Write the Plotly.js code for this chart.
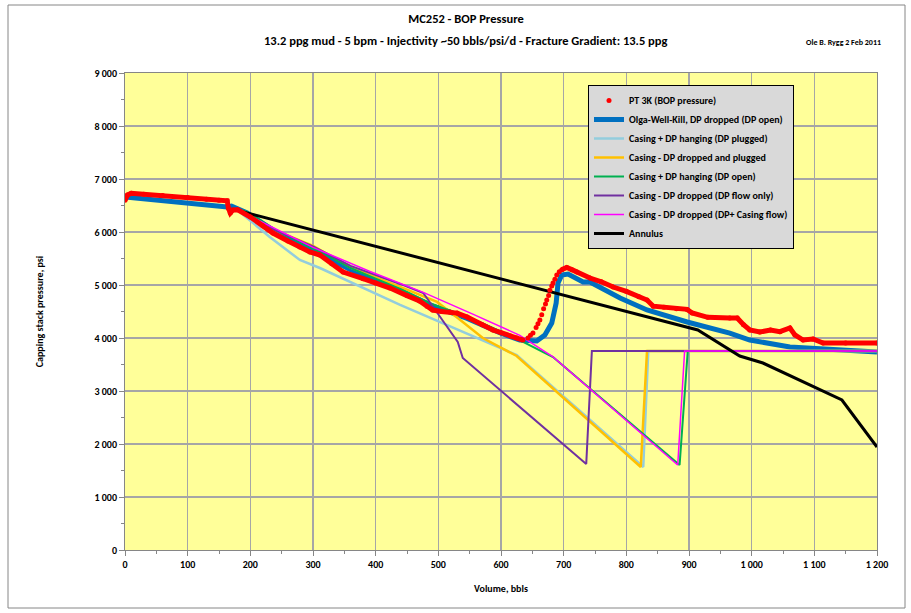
<!DOCTYPE html>
<html><head><meta charset="utf-8">
<script src="https://cdn.plot.ly/plotly-3.0.1.min.js"></script>
<style>html,body{margin:0;padding:0;background:#fff;}#chart{width:911px;height:613px;}</style>
</head><body><div id="chart"></div>
<script>
// PT 3K (BOP pressure) measured
const ptVol = [0,4,10,30,60,100,130,150,163,165,168,172,180,200,220,236,260,279,295,311,330,348,380,400,423,450,470,482,491,505,519,530,546,570,587,600,615,625,635,643,647,651,656,659,662,665,668,671,673,676,678,681,683,686,689,693,697,705,713,721,742,760,779,800,820,833,843,860,880,897,905,930,965,977,987,997,1013,1030,1045,1061,1069,1082,1098,1114,1150,1200];
const ptPsi = [6600,6700,6730,6710,6690,6650,6620,6600,6590,6450,6360,6415,6420,6283,6120,5981,5830,5717,5623,5566,5400,5245,5120,5040,4943,4800,4700,4600,4528,4500,4491,4470,4396,4250,4151,4100,4040,4000,3962,4000,4050,4094,4200,4270,4340,4440,4550,4640,4717,4800,4900,4980,5038,5110,5189,5250,5290,5330,5290,5245,5132,5060,4962,4880,4780,4717,4600,4580,4550,4540,4472,4390,4377,4377,4250,4151,4113,4150,4120,4189,4057,3962,3981,3906,3906,3906];
// Olga-Well-Kill, DP dropped (DP open)
const olgaVol = [0,163,170,195,240,280,320,360,400,440,490,546,600,630,657,670,681,688,691,697,707,731,742,790,833,897,965,997,1061,1130,1200];
const olgaPsi = [6660,6470,6490,6358,6010,5770,5550,5290,5090,4890,4610,4370,4090,3962,3943,4057,4283,4660,5038,5189,5208,5057,5057,4755,4528,4302,4094,3962,3830,3774,3736];
// Casing + DP hanging (DP plugged)
const lbVol = [179,231,279,311,439,571,625,827,835,1200];
const lbPsi = [6420,5906,5472,5321,4623,3962,3679,1566,3755,3755];
// Casing - DP dropped and plugged
const orVol = [179,240,300,360,440,475,498,531,571,625,823,833,1200];
const orPsi = [6420,6030,5740,5330,4960,4790,4680,4377,4000,3660,1566,3755,3755];
// Casing + DP hanging (DP open)
const grVol = [179,195,240,280,320,360,400,440,490,546,600,625,683,885,898,1200];
const grPsi = [6440,6380,6040,5800,5580,5320,5120,4920,4640,4400,4120,3990,3640,1604,3755,3755];
// Casing - DP dropped (DP flow only)
const puVol = [179,240,300,360,439,476,503,531,539,736,745,1200];
const puPsi = [6420,6030,5730,5360,5020,4849,4396,3925,3623,1623,3755,3755];
// Casing - DP dropped (DP+ Casing flow)
const mgVol = [179,240,300,390,476,555,630,683,882,893,1200];
const mgPsi = [6420,6060,5710,5260,4860,4450,4050,3642,1604,3755,3755];
// Annulus
const anVol = [175,838,914,981,1018,1144,1200];
const anPsi = [6420,4396,4151,3660,3528,2830,1943];

const xTicks = [0,100,200,300,400,500,600,700,800,900,1000,1100,1200];
const yTicks = [0,1000,2000,3000,4000,5000,6000,7000,8000,9000];

const FONT = "Carlito, 'Liberation Sans Narrow', 'Liberation Sans', Arial, sans-serif";

// the dense parts of the measured record are drawn joined; the sparse rise is dots only
const ptLinePsi = ptPsi.map((v, i) => (ptVol[i] > 640 && ptVol[i] < 697) ? null : v);
const ptLineVol = ptVol.map((v, i) => (ptVol[i] > 640 && ptVol[i] < 697) ? null : v);

function ln(name, x, y, color, width, rank) {
  return {type:'scatter', mode:'lines', name:name, x:x, y:y, legendgroup:name, legendrank:rank,
    line:{color:color, width:width}, hoverinfo:'skip'};
}
const traces = [
  ln('Olga-Well-Kill, DP dropped (DP open)', olgaVol, olgaPsi, '#0070C0', 5, 2),
  ln('Casing + DP hanging (DP plugged)', lbVol, lbPsi, '#93CDDD', 2.5, 3),
  ln('Casing - DP dropped and plugged', orVol, orPsi, '#FFC000', 2.5, 4),
  ln('Casing + DP hanging (DP open)', grVol, grPsi, '#00B050', 2, 5),
  ln('Casing - DP dropped (DP flow only)', puVol, puPsi, '#7030A0', 2, 6),
  ln('Casing - DP dropped (DP+ Casing flow)', mgVol, mgPsi, '#FF00FF', 1.5, 7),
  ln('Annulus', anVol, anPsi, '#000000', 3, 8),
  {type:'scatter', mode:'lines', x:ptLineVol, y:ptLinePsi, name:'PT 3K (BOP pressure)', legendgroup:'pt', showlegend:false,
    connectgaps:false, line:{color:'#FF0000', width:5}, hoverinfo:'skip'},
  {type:'scatter', mode:'markers', x:ptVol, y:ptPsi, name:'PT 3K (BOP pressure)', legendgroup:'pt', legendrank:1,
    marker:{color:'#FF0000', size:5}, hoverinfo:'skip'}
];

const axisCommon = {
  showgrid:true, gridcolor:'#A6A6A6', gridwidth:1.5,
  showline:true, linecolor:'#868686', linewidth:1, mirror:true,
  ticks:'outside', ticklen:5, tickcolor:'#868686', tickwidth:1,
  zeroline:false, separatethousands:true,
  tickfont:{family:FONT, size:10, color:'#000', weight:'bold'}
};

const layout = {
  width:911, height:613,
  paper_bgcolor:'#FFFFFF', plot_bgcolor:'#FFFF99',
  separators:'. ',
  margin:{l:125, r:34, t:73, b:63},
  font:{family:FONT, color:'#000'},
  showlegend:true,
  title:{text:'MC252 - BOP Pressure', font:{family:FONT, size:12.5, weight:'bold', color:'#000'},
    x:466/911, xref:'container', xanchor:'center', y:1-19/613, yref:'container', yanchor:'middle'},
  xaxis: Object.assign({}, axisCommon, {
    range:[0,1200], tickvals:xTicks,
    minor:{dtick:50, ticks:'outside', ticklen:3, tickcolor:'#868686', showgrid:false},
    title:{text:'Volume, bbls', font:{family:FONT, size:10, weight:'bold'}, standoff:14}
  }),
  yaxis: Object.assign({}, axisCommon, {
    range:[0,9000], tickvals:yTicks,
    minor:{dtick:500, ticks:'outside', ticklen:3, tickcolor:'#868686', showgrid:false},
    title:{text:'Capping stack pressure, psi', font:{family:FONT, size:10, weight:'bold'}, standoff:48}
  }),
  legend:{
    x:(588-125)/752, y:(550-85)/477, xanchor:'left', yanchor:'top',
    bgcolor:'#D9D9D9', bordercolor:'#000000', borderwidth:1,
    font:{family:FONT, size:10, weight:'bold', color:'#000'},
    traceorder:'grouped', tracegroupgap:0, itemwidth:30
  },
  annotations:[
    {text:'13.2 ppg mud - 5 bpm - Injectivity ~50 bbls/psi/d - Fracture Gradient: 13.5 ppg',
     xref:'paper', yref:'paper', x:(466-125)/752, y:(550-40)/477, xanchor:'center', yanchor:'middle',
     showarrow:false, font:{family:FONT, size:12.5, weight:'bold', color:'#000'}},
    {text:'Ole B. Rygg 2 Feb 2011', xref:'paper', yref:'paper', x:(843-125)/752, y:(550-42)/477,
     xanchor:'center', yanchor:'middle', showarrow:false, font:{family:FONT, size:8, weight:'bold', color:'#000'}}
  ],
  shapes:[
    {type:'rect', xref:'paper', yref:'paper', x0:(8-125)/752, x1:(905-125)/752, y0:(550-608)/477, y1:(550-5)/477,
     line:{color:'#868686', width:1}, fillcolor:'rgba(0,0,0,0)', layer:'below'}
  ]
};

Plotly.newPlot('chart', traces, layout, {staticPlot:true, displayModeBar:false});
</script>
</body></html>
